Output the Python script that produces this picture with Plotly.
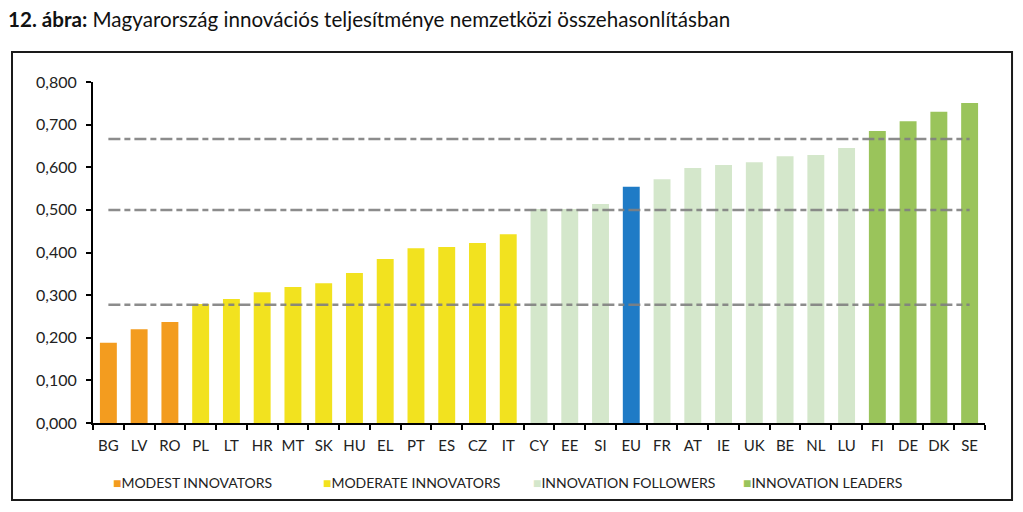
import plotly.graph_objects as go

countries = ["BG", "LV", "RO", "PL", "LT", "HR", "MT", "SK", "HU", "EL", "PT", "ES", "CZ", "IT",
             "CY", "EE", "SI", "EU", "FR", "AT", "IE", "UK", "BE", "NL", "LU", "FI", "DE", "DK", "SE"]
scores = [0.188, 0.220, 0.237, 0.279, 0.291, 0.307, 0.319, 0.328, 0.352, 0.385, 0.410, 0.413, 0.422, 0.443,
          0.502, 0.502, 0.514, 0.554, 0.572, 0.598, 0.605, 0.612, 0.626, 0.629, 0.645, 0.685, 0.708, 0.730, 0.751]
groups = ["modest"] * 3 + ["moderate"] * 11 + ["follower"] * 3 + ["eu"] + ["follower"] * 7 + ["leader"] * 4

group_names = {
    "modest": "MODEST INNOVATORS",
    "moderate": "MODERATE INNOVATORS",
    "follower": "INNOVATION FOLLOWERS",
    "leader": "INNOVATION LEADERS",
}
group_colors = {
    "modest": "#F39C1F",
    "moderate": "#F2E21F",
    "follower": "#D4E7CB",
    "eu": "#1F7BC6",
    "leader": "#9AC45B",
}
thresholds = [0.2775, 0.4995, 0.666]
y_ticks = [0.0, 0.1, 0.2, 0.3, 0.4, 0.5, 0.6, 0.7, 0.8]

FONT = "Lato"

fig = go.Figure()

for g in ["modest", "moderate", "follower", "eu", "leader"]:
    xs = [c for c, gg in zip(countries, groups) if gg == g]
    ys = [v for v, gg in zip(scores, groups) if gg == g]
    fig.add_trace(go.Bar(x=xs, y=ys, marker=dict(color=group_colors[g], line=dict(width=0)),
                         width=0.55, showlegend=False))

for t in thresholds:
    fig.add_trace(go.Scatter(x=countries, y=[t] * len(countries), mode="lines",
                             line=dict(color="rgba(128,128,128,0.9)", width=2.5, dash="12px,4px,6px,4px"),
                             showlegend=False, hoverinfo="skip"))

for g in ["modest", "moderate", "follower", "leader"]:
    fig.add_trace(go.Scatter(
        x=[countries[0]], y=[None], mode="markers",
        marker=dict(size=1, color="rgba(0,0,0,0)", line=dict(width=0)),
        name='<span style="color:%s">■</span>%s' % (group_colors[g], group_names[g]),
    ))

fig.update_layout(
    width=1015, height=504,
    margin=dict(l=85, r=38, t=74, b=89),
    paper_bgcolor="white", plot_bgcolor="white",
    separators=", ",
    barmode="overlay",
    font=dict(family=FONT, size=13, color="#222222"),
    title=dict(text="<b>12. ábra:</b> Magyarország innovációs teljesítménye nemzetközi összehasonlításban",
               x=0.0, xanchor="left", y=0.977, yanchor="middle",
               font=dict(family=FONT, size=20.6, color="#111111")),
    showlegend=True,
    legend=dict(orientation="h", x=-0.0225, xanchor="left", y=-0.176, yanchor="middle",
                font=dict(family=FONT, size=14, color="#222222"),
                itemwidth=30, bgcolor="rgba(0,0,0,0)",
                entrywidth=165, entrywidthmode="pixels"),
    xaxis=dict(
        type="category", categoryorder="array", categoryarray=countries,
        range=[-0.5, len(countries) - 0.5],
        showline=True, linecolor="black", linewidth=2,
        ticks="outside", tickson="boundaries", ticklen=5, tickwidth=2, tickcolor="black",
        tickangle=0, ticklabelstandoff=8,
        tickfont=dict(family=FONT, size=15, color="#222222"),
        showgrid=False, zeroline=False, fixedrange=True,
    ),
    yaxis=dict(
        range=[0, 0.8], tickvals=y_ticks, tickformat=".3f",
        showline=True, linecolor="black", linewidth=2,
        ticks="outside", ticklen=5, tickwidth=2, tickcolor="black",
        ticklabelstandoff=6,
        tickfont=dict(family=FONT, size=16, color="#222222"),
        showgrid=False, zeroline=False, fixedrange=True,
    ),
    shapes=[dict(type="rect", xref="paper", yref="paper",
                 x0=-0.0908, x1=1.0303, y0=-0.2258, y1=1.088,
                 line=dict(color="#1a1a1a", width=2), fillcolor="rgba(0,0,0,0)", layer="below")],
)

fig.write_html("out.html")
